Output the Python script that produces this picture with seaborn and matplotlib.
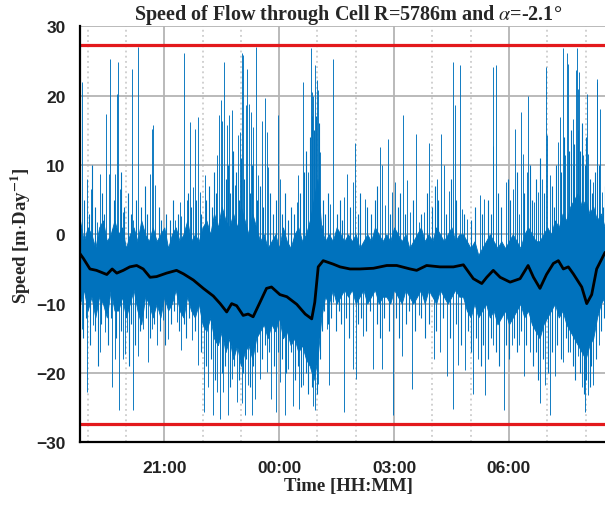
import numpy as np
import pandas as pd
import matplotlib
matplotlib.use("Agg")
import matplotlib.pyplot as plt
from matplotlib.ticker import MultipleLocator, FixedLocator
import seaborn as sns

# ---------------- data (time in hours since midnight of first day) ----------------
mean_hours = [18.80, 18.89, 19.06, 19.23, 19.50, 19.64, 19.76, 19.93, 20.10, 20.28,
              20.45, 20.63, 20.80, 21.06, 21.32, 21.50, 21.76, 22.02, 22.28, 22.46,
              22.63, 22.76, 22.89, 23.06, 23.19, 23.32, 23.50, 23.67, 23.80, 24.02,
              24.20, 24.46, 24.68, 24.85, 24.93, 25.02, 25.15, 25.41, 25.59, 25.85,
              26.11, 26.46, 26.81, 27.07, 27.42, 27.59, 27.85, 28.20, 28.55, 28.81,
              29.07, 29.29, 29.42, 29.59, 29.77, 30.03, 30.29, 30.50, 30.64, 30.81,
              30.98, 31.16, 31.29, 31.42, 31.55, 31.68, 31.90, 32.03, 32.16, 32.29,
              32.51]
mean_speed = [-2.8, -3.5, -5.0, -5.2, -5.8, -5.0, -5.6, -5.2, -4.7, -4.5,
              -5.0, -6.2, -6.1, -5.6, -5.2, -5.7, -6.6, -7.8, -8.9, -10.0,
              -11.2, -10.0, -10.3, -11.7, -11.5, -11.9, -9.8, -7.8, -7.6, -8.7,
              -9.0, -10.1, -11.5, -12.2, -9.8, -4.7, -3.8, -4.3, -4.7, -5.0,
              -5.0, -4.9, -4.5, -4.5, -5.0, -5.2, -4.5, -4.7, -4.7, -4.4,
              -6.4, -7.1, -6.2, -5.2, -6.2, -6.9, -6.4, -4.5, -6.2, -7.8,
              -5.8, -4.2, -3.8, -5.0, -4.7, -5.7, -7.6, -10.0, -8.7, -5.0,
              -2.6]

band_hours = [18.8, 18.9, 19.0, 19.1, 19.2, 19.3, 19.4, 19.5, 19.6, 19.7,
              19.8, 19.9, 20.0, 20.1, 20.2, 20.3, 20.4, 20.5, 20.6, 20.7,
              20.8, 20.9, 21.0, 21.1, 21.2, 21.3, 21.4, 21.5, 21.6, 21.7,
              21.8, 21.9, 22.0, 22.1, 22.2, 22.3, 22.4, 22.5, 22.6, 22.7,
              22.8, 22.9, 23.0, 23.1, 23.2, 23.3, 23.4, 23.5, 23.6, 23.7,
              23.8, 23.9, 24.0, 24.1, 24.2, 24.3, 24.4, 24.5, 24.6, 24.7,
              24.8, 24.9, 25.0, 25.1, 25.2, 25.3, 25.4, 25.5, 25.6, 25.7,
              25.8, 25.9, 26.0, 26.1, 26.2, 26.3, 26.4, 26.5, 26.6, 26.7,
              26.8, 26.9, 27.0, 27.1, 27.2, 27.3, 27.4, 27.5, 27.6, 27.7,
              27.8, 27.9, 28.0, 28.1, 28.2, 28.3, 28.4, 28.5, 28.6, 28.7,
              28.8, 28.9, 29.0, 29.1, 29.2, 29.3, 29.4, 29.5, 29.6, 29.7,
              29.8, 29.9, 30.0, 30.1, 30.2, 30.3, 30.4, 30.5, 30.6, 30.7,
              30.8, 30.9, 31.0, 31.1, 31.2, 31.3, 31.4, 31.5, 31.6, 31.7,
              31.8, 31.9, 32.0, 32.1, 32.2, 32.3, 32.4, 32.5, 32.6, 32.7,
              32.8]
band_upper = [2, -1, 1, 0, -2, 1, 2, -1, 0, 2,
              0, 1, -2, 0, 1, -1, 2, 0, -1, 1,
              -1, 0, 1, -2, 0, 1, -1, 0, 2, -1,
              0, -1, 1, 2, 0, 3, 1, 4, 2, 1,
              3, 1, 4, 2, 0, 3, 1, -1, 0, -2,
              -1, 0, -2, 1, -1, -2, 0, 1, -1, 0,
              2, 5, 8, 1, -1, 0, -1, 1, 0, -1,
              0, -1, 0, -2, -1, 0, -1, 1, 0, -1,
              0, -1, 1, 0, -1, 0, -2, -1, 0, 1,
              -1, 0, -1, 1, 0, -1, 0, 1, -1, 0,
              0, -1, -2, -1, -3, -2, -1, 0, -1, -2,
              -1, -2, -1, 0, -1, -2, 0, 1, 0, -1,
              -1, 0, 1, 0, 2, 1, 3, 2, 4, 5,
              6, 4, 5, 3, 4, 2, 3, 1, 2, 1,
              1]
band_lower = [-10, -8, -11, -9, -12, -9, -10, -12, -8, -11,
              -11, -9, -12, -10, -8, -11, -13, -9, -10, -12,
              -10, -12, -9, -11, -10, -8, -11, -12, -9, -11,
              -12, -10, -13, -14, -12, -15, -16, -14, -17, -15,
              -18, -16, -19, -17, -16, -18, -15, -14, -13, -15,
              -13, -14, -12, -15, -14, -16, -15, -17, -16, -18,
              -19, -21, -18, -12, -9, -10, -8, -10, -9, -8,
              -9, -8, -10, -9, -8, -10, -9, -8, -10, -9,
              -9, -10, -8, -9, -10, -8, -9, -10, -9, -8,
              -10, -8, -9, -10, -8, -9, -10, -9, -8, -9,
              -9, -11, -12, -10, -12, -11, -10, -12, -11, -13,
              -12, -11, -13, -12, -11, -10, -12, -11, -13, -14,
              -15, -13, -12, -11, -10, -12, -11, -13, -14, -15,
              -16, -17, -18, -16, -15, -12, -10, -9, -8, -9,
              -8]

# tall spikes
up_hours = [18.84, 18.99, 19.08, 19.25, 19.32, 19.48, 19.55, 19.58, 19.63, 19.71,
            19.77, 19.80, 19.84, 19.91, 20.17, 20.19, 20.32, 20.63, 20.67, 20.71,
            20.76, 21.28, 21.41, 21.45, 21.52, 21.59, 21.67, 21.74, 21.80, 21.89,
            21.93, 22.06, 22.39, 22.44, 22.47, 22.52, 22.57, 22.63, 22.69, 22.76,
            22.85, 22.93, 22.98, 23.04, 23.06, 23.13, 23.17, 23.21, 23.26, 23.33,
            23.39, 23.46, 23.54, 23.63, 23.67, 23.72, 23.98, 24.02, 24.46, 24.50,
            24.61, 24.76, 24.83, 24.85, 24.89, 24.94, 24.98, 25.01, 25.07, 25.11,
            25.33, 25.41, 25.68, 25.76, 25.94, 25.98, 26.23, 26.62, 26.68, 26.77,
            26.84, 26.94, 27.03, 27.23, 27.33, 27.42, 27.57, 27.64, 27.77, 27.92,
            28.11, 28.23, 28.31, 28.44, 28.53, 28.59, 28.71, 28.77, 28.90, 29.25,
            29.36, 29.58, 29.59, 29.66, 29.92, 30.10, 30.16, 30.25, 30.31, 30.36,
            30.46, 30.49, 30.66, 30.77, 30.87, 30.97, 31.00, 31.07, 31.27, 31.32,
            31.40, 31.47, 31.51, 31.54, 31.58, 31.68, 31.75, 31.77, 31.81, 31.84,
            31.94, 32.03, 32.07, 32.20, 32.29, 32.31, 32.38, 32.42]
up_speed = [22.0, 8.0, 6.6, 1.8, 8.7, 17.4, 8.7, 25.3, 0.8, 8.7,
            20.3, 24.9, 6.6, 3.2, 23.9, 2.0, 27.0, 8.7, 15.2, 15.7,
            7.1, 2.0, 4.6, 2.7, 26.1, 4.9, 16.2, 6.8, 15.2, 16.9,
            6.1, 8.5, 11.4, 17.2, 19.3, 16.4, 24.9, 15.7, 17.2, 17.9,
            7.1, 14.3, 14.8, 26.1, 25.8, 18.6, 23.9, 18.8, 17.6, 15.5,
            27.0, 8.5, 16.4, 19.6, 14.8, 9.7, 17.2, 8.0, 4.6, 8.5,
            22.0, 9.0, 26.8, 20.5, 20.0, 24.4, 22.2, 20.8, 11.9, 1.3,
            4.4, 25.3, 5.4, 8.7, 7.5, 13.1, 5.1, 12.6, 10.0, 4.2,
            13.8, 6.1, 7.5, 17.2, 7.8, 3.2, 14.5, 1.8, 3.2, 13.1,
            8.0, 14.5, 10.0, 6.3, 24.9, 18.6, 24.4, 3.7, 2.2, 5.6,
            5.1, 12.8, 24.1, 24.4, 7.5, 6.6, 15.2, 3.0, 17.6, 11.6,
            9.0, 20.0, 4.6, 6.1, 8.0, 24.1, 14.3, 8.5, 13.3, 16.9,
            26.8, 11.4, 26.1, 24.6, 8.0, 16.7, 23.7, 26.8, 21.0, 23.4,
            11.4, 20.3, 11.6, 7.5, 22.0, 22.4, 18.1, 6.1]

down_hours = [18.84, 18.99, 19.15, 19.32, 19.45, 19.64, 19.71, 19.83, 19.91, 19.97,
              20.02, 20.19, 20.32, 20.45, 20.58, 20.67, 20.80, 20.98, 21.11, 21.32,
              21.45, 21.72, 21.89, 22.05, 22.15, 22.28, 22.39, 22.46, 22.54, 22.67,
              22.76, 22.89, 23.02, 23.11, 23.18, 23.28, 23.37, 23.50, 23.67, 23.80,
              23.93, 24.02, 24.15, 24.24, 24.37, 24.53, 24.63, 24.81, 24.89, 24.94,
              25.02, 25.24, 25.31, 25.41, 25.68, 25.94, 26.01, 26.20, 26.46, 26.68,
              26.98, 27.20, 27.46, 27.64, 28.03, 28.20, 28.38, 28.55, 28.68, 28.85,
              29.07, 29.20, 29.38, 29.59, 29.86, 30.07, 30.25, 30.38, 30.55, 30.81,
              30.94, 31.07, 31.20, 31.42, 31.60, 31.81, 31.90, 31.99, 32.07, 32.20,
              32.34]
down_speed = [-13.6, -22.8, -13.1, -17.0, -14.1, -22.0, -18.0, -25.4, -18.0, -17.2,
              -14.1, -25.4, -17.5, -13.6, -18.4, -13.6, -16.0, -12.4, -15.1, -12.7,
              -16.7, -15.3, -18.9, -25.6, -22.0, -26.1, -22.8, -26.6, -22.8, -26.1,
              -20.8, -24.2, -24.4, -26.1, -21.8, -26.1, -23.7, -20.8, -19.9, -23.7,
              -25.6, -21.3, -26.1, -19.4, -24.7, -25.2, -21.8, -18.9, -24.7, -25.4,
              -21.6, -13.6, -21.8, -9.8, -25.6, -19.4, -20.8, -14.6, -19.4, -19.4,
              -26.1, -17.5, -22.3, -11.7, -18.0, -17.0, -20.4, -25.2, -18.9, -19.6,
              -23.0, -18.0, -23.2, -16.0, -25.4, -16.0, -16.0, -20.4, -17.0, -24.4,
              -21.8, -26.1, -20.4, -18.4, -17.0, -17.5, -22.0, -25.6, -23.2, -21.8,
              -16.0]

# medium spikes that thicken the noisy core
mid_up_hours = [18.90, 19.03, 19.12, 19.20, 19.38, 19.42, 19.68, 19.87, 19.95, 20.05,
                20.12, 20.25, 20.40, 20.50, 20.56, 20.85, 20.92, 21.05, 21.15, 21.22,
                21.36, 21.62, 21.70, 21.84, 21.97, 22.10, 22.18, 22.24, 22.31, 22.35,
                22.60, 22.66, 22.72, 22.80, 22.88, 22.95, 23.00, 23.09, 23.23, 23.30,
                23.42, 23.50, 23.58, 23.76, 23.85, 23.92, 24.08, 24.14, 24.22, 24.30,
                24.38, 24.55, 24.66, 24.70, 24.80, 24.87, 24.91, 24.96, 25.04, 25.14,
                25.20, 25.27, 25.50, 25.58, 25.63, 25.85, 26.05, 26.12, 26.30, 26.40,
                26.50, 26.56, 26.90, 27.10, 27.15, 27.28, 27.50, 27.70, 27.85, 28.00,
                28.06, 28.16, 28.36, 28.48, 28.63, 28.82, 29.00, 29.12, 29.30, 29.45,
                29.52, 29.72, 29.80, 29.98, 30.04, 30.20, 30.40, 30.55, 30.60, 30.70,
                30.82, 30.92, 31.12, 31.18, 31.22, 31.36, 31.44, 31.56, 31.62, 31.66,
                31.71, 31.79, 31.86, 31.90, 31.98, 32.00, 32.12, 32.16, 32.24, 32.34,
                32.46, 32.50]
mid_up_speed = [5, 3, 10, 4, 6, 3, 5, 9, 4, 6,
                3, 5, 4, 7, 3, 4, 2, 3, 2, 5,
                3, 6, 4, 5, 3, 5, 7, 4, 9, 6,
                8, 10, 6, 12, 9, 5, 11, 8, 6, 10,
                5, 7, 4, 6, 3, 5, 3, 6, 2, 4,
                3, 6, 9, 12, 14, 17, 15, 17, 16, 5,
                3, 6, 3, 5, 2, 4, 3, 6, 4, 3,
                5, 7, 3, 4, 6, 3, 5, 3, 6, 4,
                7, 5, 3, 8, 5, 3, 2, 4, 3, 5,
                3, 6, 4, 8, 5, 9, 6, 10, 5, 8,
                11, 6, 7, 4, 10, 9, 14, 12, 15, 10,
                13, 15, 12, 16, 10, 14, 8, 6, 9, 10,
                4, 7]

mid_down_hours = [18.87, 18.95, 19.05, 19.18, 19.26, 19.36, 19.52, 19.60, 19.75, 19.87,
                  20.08, 20.14, 20.24, 20.37, 20.52, 20.62, 20.72, 20.90, 21.02, 21.18,
                  21.26, 21.38, 21.52, 21.58, 21.65, 21.80, 21.96, 22.10, 22.22, 22.33,
                  22.50, 22.58, 22.71, 22.82, 22.94, 23.06, 23.14, 23.23, 23.33, 23.43,
                  23.55, 23.62, 23.73, 23.86, 23.98, 24.08, 24.19, 24.30, 24.42, 24.48,
                  24.58, 24.70, 24.76, 24.85, 24.98, 25.06, 25.12, 25.18, 25.28, 25.36,
                  25.48, 25.55, 25.62, 25.75, 25.82, 26.05, 26.14, 26.28, 26.36, 26.55,
                  26.62, 26.75, 26.88, 27.05, 27.12, 27.30, 27.38, 27.55, 27.70, 27.80,
                  27.92, 28.10, 28.28, 28.45, 28.62, 28.76, 28.92, 29.02, 29.13, 29.26,
                  29.33, 29.46, 29.53, 29.66, 29.75, 29.93, 30.00, 30.13, 30.20, 30.32,
                  30.45, 30.62, 30.70, 30.76, 30.88, 31.02, 31.12, 31.26, 31.35, 31.48,
                  31.55, 31.66, 31.72, 31.86, 31.95, 32.02, 32.11, 32.15, 32.26, 32.40,
                  32.48]
mid_down_speed = [-15, -12, -16, -14, -19, -13, -16, -12, -15, -14,
                  -19, -13, -16, -14, -12, -15, -13, -14, -16, -13,
                  -11, -14, -13, -15, -12, -14, -17, -19, -18, -21,
                  -20, -19, -22, -19, -21, -20, -18, -22, -19, -17,
                  -18, -16, -17, -19, -17, -18, -20, -17, -21, -19,
                  -22, -20, -23, -22, -23, -18, -14, -11, -13, -12,
                  -14, -11, -13, -12, -15, -13, -12, -14, -11, -13,
                  -15, -12, -14, -12, -15, -13, -11, -14, -12, -15,
                  -13, -14, -12, -15, -13, -16, -14, -17, -15, -19,
                  -16, -18, -15, -17, -19, -16, -18, -15, -17, -14,
                  -16, -19, -17, -21, -18, -20, -17, -16, -18, -15,
                  -17, -19, -21, -20, -23, -21, -22, -19, -18, -14,
                  -12]

limit_speed = 27.3
xtick_hours = [21, 24, 27, 30]
xtick_labels = ["21:00", "00:00", "03:00", "06:00"]
ytick_values = [-30, -20, -10, 0, 10, 20, 30]

# ---------------- styling ----------------
sns.set_theme(style="white")
plt.rcParams["font.family"] = ["Liberation Sans", "DejaVu Sans"]
plt.rcParams["mathtext.fontset"] = "stix"

BLUE = "#0072BD"
RED = "#E3191C"
GRID = "#b4b4b4"

fig = plt.figure(figsize=(6.05, 5.06), dpi=100)
ax = fig.add_axes([80 / 605, 62.7 / 506, 536 / 605, 416 / 506])

# dense core of the signal
ax.fill_between(band_hours, band_lower, band_upper, color=BLUE, lw=0.6,
                edgecolor=BLUE, zorder=2)
# spikes
ax.vlines(mid_up_hours, -4, mid_up_speed, color=BLUE, lw=0.8, zorder=2)
ax.vlines(mid_down_hours, -4, mid_down_speed, color=BLUE, lw=0.8, zorder=2)
ax.vlines(up_hours, -4, up_speed, color=BLUE, lw=0.65, zorder=2)
ax.vlines(down_hours, -4, down_speed, color=BLUE, lw=0.65, zorder=2)

# moving mean
mean_df = pd.DataFrame({"hour": mean_hours, "speed": mean_speed})
sns.lineplot(data=mean_df, x="hour", y="speed", color="black", lw=2.0,
             sort=False, ax=ax, zorder=4)

# limits
ax.axhline(limit_speed, color=RED, lw=2.3, zorder=5)
ax.axhline(-limit_speed, color=RED, lw=2.3, zorder=5)

ax.set_xlim(18.80, 18.80 + 536 / 38.3)
ax.set_ylim(-30, 30)

ax.xaxis.set_major_locator(FixedLocator(xtick_hours))
ax.set_xticklabels(xtick_labels)
ax.xaxis.set_minor_locator(MultipleLocator(1))
ax.yaxis.set_major_locator(FixedLocator(ytick_values))
ax.yaxis.set_minor_locator(MultipleLocator(2))

ax.set_axisbelow(True)
ax.grid(which="major", axis="both", color=GRID, lw=1.3, ls="-", zorder=0)
ax.grid(which="minor", axis="x", color="#c4c4c4", lw=1.1, ls=(0, (1.2, 2.2)), zorder=0)

for s in ["top", "right"]:
    ax.spines[s].set_visible(False)
for s in ["left", "bottom"]:
    ax.spines[s].set_color("black")
    ax.spines[s].set_linewidth(1.6)
    ax.spines[s].set_zorder(6)

ax.tick_params(axis="both", which="major", direction="inout", length=15, width=1.6,
               color="black", labelsize=12.5, pad=4)
ax.tick_params(axis="both", which="minor", direction="inout", length=7, width=1.4,
               color="black")
ax.tick_params(axis="x", which="major", pad=5)
ax.tick_params(axis="y", which="major", pad=3)
for lbl in ax.get_xticklabels() + ax.get_yticklabels():
    lbl.set_fontweight("bold")
    lbl.set_color("#222222")

serif = ["Liberation Serif", "DejaVu Serif"]
ax.set_title(r"Speed of Flow through Cell R=5786m and $\alpha$=-2.1°",
             fontsize=14.5, fontweight="bold", family=serif, pad=5)
ax.set_xlabel("Time [HH:MM]", fontsize=13.5, fontweight="bold", family=serif, labelpad=2)
ax.set_ylabel(r"Speed [m$\cdot$Day$^{\mathbf{-1}}$]", fontsize=13.5, fontweight="bold",
              family=serif, labelpad=2)

fig.savefig("out.png", dpi=100)
